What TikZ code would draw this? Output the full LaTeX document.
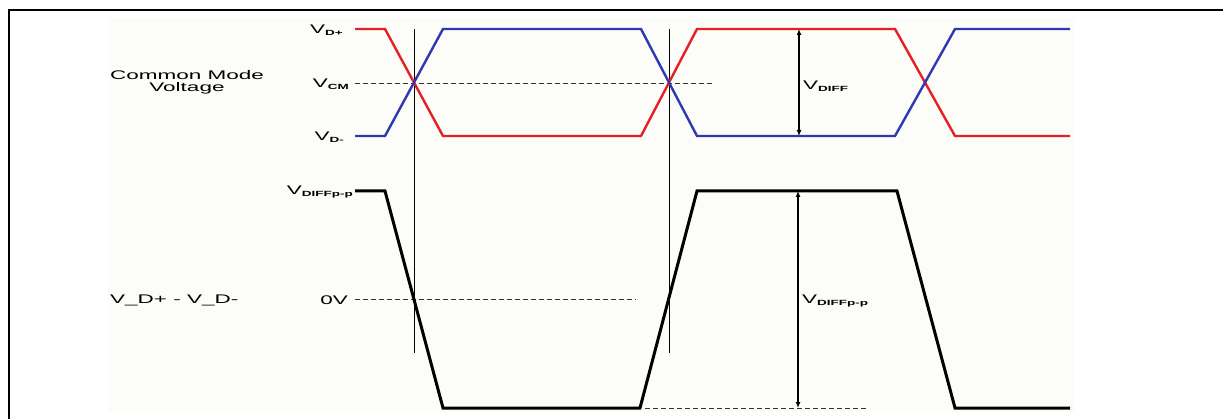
\documentclass[tikz,border=0pt]{standalone}
\usepackage{fontspec}
\setmainfont{Liberation Sans}
\usetikzlibrary{arrows.meta}
\definecolor{sigred}{RGB}{228,32,36}
\definecolor{sigblue}{RGB}{48,56,176}
\definecolor{paper}{RGB}{252,252,248}
\newcommand{\wide}[1]{\scalebox{1.8}[1]{#1}}
\newcommand{\Vsub}[1]{\wide{V\raisebox{-2pt}{\fontsize{7.5}{8}\selectfont\bfseries #1}}}
\tikzset{
  lab/.style={inner sep=0pt, font=\fontsize{12.5}{14}\selectfont},
  redsig/.style={draw=sigred, line width=2.4pt, line join=miter},
  bluesig/.style={draw=sigblue, line width=2.4pt, line join=miter},
  diffsig/.style={draw=black, line width=3pt, line join=miter},
  marker/.style={draw=black, line width=1pt},
  refdash/.style={draw=black!80, line width=0.9pt, dash pattern=on 5pt off 3pt},
  dim/.style={draw=black, line width=1.2pt, {Latex[length=6pt,width=5pt]}-{Latex[length=6pt,width=5pt]}},
  frame/.style={draw=black, line width=2pt}
}
\begin{document}
\begin{tikzpicture}[x=1pt,y=-1pt]
\useasboundingbox (0,0) rectangle (1223,419);
\fill[paper] (108,18) rectangle (1075,412);
% frame (top and left edges visible)
\draw[frame] (1224,10) -- (9,10) -- (9,420);

% labels
\node[lab, align=center] (cmv) at (187,82) {\wide{Common Mode}\\[-2pt]\wide{Voltage}};
\node[lab, anchor=east] (vdp) at (343,30) {\Vsub{D+}};
\node[lab, anchor=east] (vcm) at (349,84) {\Vsub{CM}};
\node[lab, anchor=east] (vdm) at (344,137) {\Vsub{D-}};
\node[lab, anchor=east] (vpp) at (353,192) {\Vsub{DIFFp-p}};
\node[lab, anchor=west] (vdd) at (110,300) {\wide{V\_D+ - V\_D-}};
\node[lab, anchor=east] (zv) at (348,300) {\wide{0V}};
\node[lab, anchor=west] (vdiff) at (803,86) {\Vsub{DIFF}};
\node[lab, anchor=west] (vdiffpp) at (802,301) {\Vsub{DIFFp-p}};

% reference dashed lines
\coordinate (cmA) at (355,83);  \coordinate (cmB) at (713,83);
\coordinate (zA) at (355,299);  \coordinate (zB) at (636,299);
\coordinate (bA) at (645,408);  \coordinate (bB) at (868,408);
\draw[refdash] (cmA) -- (cmB);
\draw[refdash] (zA) -- (zB);
\draw[refdash] (bA) -- (bB);

% crossing markers
\coordinate (m1t) at (414,29); \coordinate (m1b) at (414,353);
\coordinate (m2t) at (669,29); \coordinate (m2b) at (669,353);
\draw[marker] (m1t) -- (m1b);
\draw[marker] (m2t) -- (m2b);

% differential pair
\draw[redsig] (355,29) -- (385,29) -- (443,136) -- (641,136) -- (697,29) -- (895,29) -- (955,136) -- (1070,136);
\draw[bluesig] (355,136) -- (385,136) -- (443,29) -- (641,29) -- (697,136) -- (895,136) -- (955,29) -- (1070,29);

% difference signal
\draw[diffsig] (355,191) -- (385,191) -- (443,408) -- (640,408) -- (697,191) -- (897,191) -- (955,408) -- (1070,408);

% dimension arrows
\coordinate (d1t) at (799,29);  \coordinate (d1b) at (799,136);
\coordinate (d2t) at (798,191); \coordinate (d2b) at (798,408);
\draw[dim] (d1t) -- (d1b);
\draw[dim] (d2t) -- (d2b);
\end{tikzpicture}
\end{document}
